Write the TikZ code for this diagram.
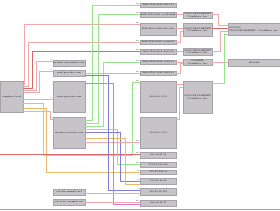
\documentclass[tikz,border=0pt]{standalone}
\usetikzlibrary{calc}
\definecolor{boxfill}{RGB}{198,196,201}
\definecolor{boxline}{RGB}{165,163,169}
\definecolor{lpink}{RGB}{240,170,170}
\definecolor{dred}{RGB}{220,105,105}
\definecolor{lgreen}{RGB}{150,228,140}
\definecolor{lorange}{RGB}{235,185,110}
\definecolor{lblue}{RGB}{125,125,215}
\definecolor{lmagenta}{RGB}{225,115,215}
\begin{document}
\begin{tikzpicture}[x=1pt,y=-1pt,
    host/.style={draw=boxline, fill=boxfill, inner sep=0pt, anchor=north west,
        font=\fontsize{2.2}{2.5}\selectfont, align=center},
    port/.style={font=\fontsize{1.6}{1.6}\selectfont, inner sep=0.3pt, anchor=south east},
    pk/.style={draw=lpink, line width = 0.6pt},
    dk/.style={draw=dred, line width = 0.6pt},
    gr/.style={draw=lgreen, line width = 0.6pt},
    og/.style={draw=lorange, line width = 0.6pt},
    bl/.style={draw=lblue, line width = 0.6pt},
    mg/.style={draw=lmagenta, line width = 0.6pt}]
\useasboundingbox (0,0) rectangle (280,210);
% left column
\node[host, minimum width=23pt, minimum height=31pt] (comp) at (0,81) {computer.local};
\node[host, minimum width=32pt, minimum height=6pt] (prod) at (53,60) {product.somewhere.com};
\node[host, minimum width=32pt, minimum height=6pt] (mail) at (53,70) {mail.provider.com};
\node[host, minimum width=32pt, minimum height=31pt] (www) at (53,81) {www.provider.com};
\node[host, minimum width=32pt, minimum height=31pt] (ana) at (53,117) {analytics.tracker.com};
\node[host, minimum width=32pt, minimum height=6pt] (ssla) at (53,189) {ssl.cdn.example.net};
\node[host, minimum width=32pt, minimum height=6pt] (sslb) at (53,199) {ssl.static.example.net};
% middle column: addresses
\node[host, minimum width=36pt, minimum height=4pt] (m1) at (140,3) {2606:4700:3030::6815:1a};
\node[host, minimum width=36pt, minimum height=5pt] (m2) at (140,12) {2606:4700:3031::ac43:b0d8};
\node[host, minimum width=36pt, minimum height=12pt] (m3) at (140,23) {2606:4700:3032::681c:b4e};
\node[host, minimum width=36pt, minimum height=4pt] (m4) at (140,40) {2606:4700:3033::ac43:8e2};
\node[host, minimum width=36pt, minimum height=5pt] (m5) at (140,49) {2606:4700:3034::6812:1b};
\node[host, minimum width=36pt, minimum height=4pt] (m6) at (140,60) {2606:4700:3035::ac43:c9};
\node[host, minimum width=36pt, minimum height=4pt] (m7) at (140,71) {2606:4700:3036::6810:5a};
\node[host, minimum width=36pt, minimum height=31pt] (m8) at (140,81) {104.16.0.0/12};
\node[host, minimum width=36pt, minimum height=31pt] (m9) at (140,117) {104.16.0.0/13};
\node[host, minimum width=36pt, minimum height=6pt] (m10) at (140,152) {104.18.25.34};
\node[host, minimum width=36pt, minimum height=5pt] (m11) at (140,162) {172.67.176.216};
\node[host, minimum width=36pt, minimum height=4pt] (m12) at (140,170) {172.67.208.54};
\node[host, minimum width=36pt, minimum height=6pt] (m13) at (140,178) {104.21.46.34};
\node[host, minimum width=36pt, minimum height=7pt] (m14) at (140,188) {104.21.52.147};
\node[host, minimum width=36pt, minimum height=6pt] (m15) at (140,200) {104.18.32.47};
% third column: networks
\node[host, minimum width=29pt, minimum height=6pt] (t1) at (183,12) {CLOUDFLARENET\\Cloudflare, Inc.};
\node[host, minimum width=29pt, minimum height=13pt] (t2) at (183,23) {CLOUDFLARENET\\Cloudflare, Inc.};
\node[host, minimum width=29pt, minimum height=7pt] (t3) at (183,48) {CLOUDFLARENET\\Cloudflare, Inc.};
\node[host, minimum width=29pt, minimum height=6pt] (t4) at (183,59) {CDNEXT\\Cloudflare, Inc.};
\node[host, minimum width=29pt, minimum height=32pt] (t5) at (183,81) {CLOUDFLARENET\\Cloudflare, Inc.};
% right column: autonomous systems
\node[host, minimum width=52pt, minimum height=12pt, text width=50pt, align=left] (f1) at (228,23)
    {AS13335\\CLOUDFLARENET - Cloudflare, Inc.};
\node[host, minimum width=52pt, minimum height=7pt] (f2) at (228,59) {AS13335};
\coordinate (edge) at (0,154);
% host to middle column
\draw[pk] (comp.east |- 0,84) -| (24,24) -- (m3.west |- 0,24) node[port] {443};
\draw[pk] (comp.east |- 0,86) -| (28,42) -- (m4.west |- 0,42) node[port] {443};
\draw[dk] (comp.east |- 0,88) -| (32,51) -- (m5.west |- 0,51) node[port] {443};
\draw[pk] (comp.east |- 0,90) -| (36,61) -- (prod.west |- 0,61) node[port] {53};
\draw[pk] (comp.east |- 0,92) -| (39,71) -- (mail.west |- 0,71) node[port] {53};
\draw[pk] (comp.east |- 0,99) -- (www.west |- 0,99) node[port] {53};
\draw[gr] (comp.east |- 0,103) -| (43,155) -| (132,82) -- (m8.west |- 0,82) node[port] {443};
\draw[og] (comp.east |- 0,108) -| (46,172) -- (m12.west |- 0,172) node[port] {80};
\draw[pk] (comp.east |- 0,111) -| (50,119) -- (ana.west |- 0,119) node[port] {53};
\draw[dk] (edge) -- (m10.west |- edge) node[port] {443};
% tracker and mail hosts
\draw[gr] (ana.east |- 0,120) -| (92,5) -- (m1.west |- 0,5) node[port] {443};
\draw[gr] (ana.east |- 0,123) -| (98,14) -- (m2.west |- 0,14) node[port] {443};
\draw[gr] (ana.east |- 0,126) -| (103,62) -- (m6.west |- 0,62) node[port] {443};
\draw[gr] (ana.east |- 0,129) -| (117,164) -- (m11.west |- 0,164) node[port] {443};
\draw[bl] (ana.east |- 0,132) -| (120,181) -- (m13.west |- 0,181) node[port] {80};
\draw[og] (ana.east |- 0,138) -| (125,184) -- (m13.west |- 0,184);
\draw[pk] (ana.east |- 0,142) -- (m9.west |- 0,142) node[port] {443};
\draw[pk] (mail.east |- 0,73) -- (m7.west |- 0,73) node[port] {443};
\draw[bl] (mail.east |- 0,75) -| (108,190) -- (m14.west |- 0,190) node[port] {80};
\draw[mg] (www.east |- 0,83) -| (113,204) -- (m15.west |- 0,204);
\draw[pk] (ssla.east |- 0,193) -- (m14.west |- 0,193);
\draw[pk] (sslb.east |- 0,202) -- (m15.west |- 0,202) node[port] {443};
% addresses to networks
\draw[pk] (m2.east |- 0,14) -- (t1.west |- 0,14);
\draw[pk] (m3.east |- 0,28) -- (t2.west |- 0,28);
\draw[pk] (m4.east |- 0,42) -| (180,31) -- (t2.west |- 0,31);
\draw[pk] (m5.east |- 0,51) -- (t3.west |- 0,51);
\draw[pk] (m6.east |- 0,62) -- (t4.west |- 0,62);
\draw[pk] (m7.east |- 0,73) -| (180,63) -- (t4.west |- 0,63);
\draw[pk] (m8.east |- 0,84) -- (t5.west |- 0,84);
\draw[pk] (m9.east |- 0,119) -| (179,87) -- (t5.west |- 0,87);
% networks to autonomous systems
\draw[pk] (t1.east |- 0,14) -| (218,25) -- (f1.west |- 0,25);
\draw[dk] (t2.east |- 0,28) -- (f1.west |- 0,28);
\draw[pk] (t3.east |- 0,51) -| (220,31) -- (f1.west |- 0,31);
\draw[pk] (t4.east |- 0,62) -- (f2.west |- 0,62);
\draw[gr] (t5.east |- 0,83) -| (224,34) -- (f1.west |- 0,34);
% bottom rule
\draw[boxline, line width = 1pt] (0,209.5) -- (280,209.5);
\end{tikzpicture}
\end{document}
